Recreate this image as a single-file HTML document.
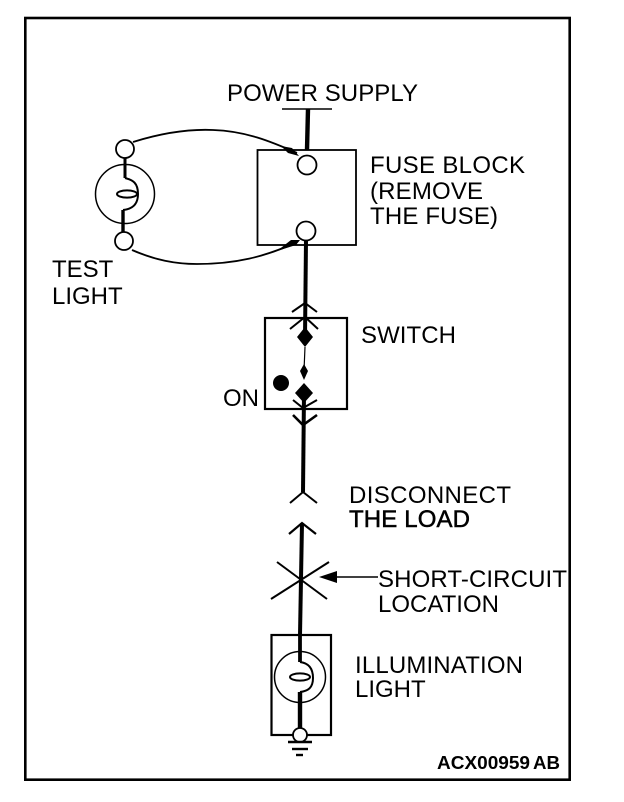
<!DOCTYPE html>
<html><head><meta charset="utf-8"><style>
html,body{margin:0;padding:0;background:#fff}
svg{display:block}
text{font-family:"Liberation Sans",sans-serif;font-size:24px;fill:#000}
</style></head><body>
<svg width="624" height="802" viewBox="0 0 624 802" xmlns="http://www.w3.org/2000/svg">
<rect x="25.3" y="18" width="544.4" height="761.7" fill="none" stroke="#000" stroke-width="2.6"/>
<g fill="none" stroke="#000" stroke-width="1.8">
<rect x="257.5" y="150" width="98.5" height="95"/>
<rect x="265" y="318" width="82" height="91" stroke-width="2.2"/>
<rect x="271.5" y="635" width="59.5" height="100" stroke-width="2.2"/>
<path d="M282 109H332" stroke-width="1.6"/>
<circle cx="125" cy="194" r="29.5" stroke-width="1.5"/>
<circle cx="300" cy="677" r="25.5" stroke-width="1.5"/>
<path d="M133 142C165 132 190 129 213 130C245 131 270 141 297 153" stroke-width="1.8"/>
<path d="M132 250C155 260 175 264 197 264C235 264 265 257 297 242" stroke-width="1.8"/>
<ellipse cx="127" cy="194" rx="10" ry="3.6" stroke-width="2"/>
<ellipse cx="300" cy="677" rx="10" ry="3.6" stroke-width="2"/>
<path d="M125 178C133 180 138 183 138 194C138 204 133 209 123 210" stroke-width="2"/>
<path d="M300 662C308 663 313 668 313 678C313 688 308 691 300 692" stroke-width="2"/>
</g>
<g fill="none" stroke="#000" stroke-width="3.8">
<path d="M308 109L307 150" stroke-width="4.4"/>
<path d="M125 158V178" stroke-width="3"/>
<path d="M123 210V233" stroke-width="3.4"/>
<path d="M300 635V662"/>
<path d="M300 692V733" stroke-width="4.4"/>
<path d="M306 240L305 337" stroke-width="4"/>
<path d="M304 393L303 492" stroke-width="4"/>
<path d="M302 523L300 635" stroke-width="4"/>
</g>
<path d="M305 347L304 371" stroke="#000" stroke-width="1.2" fill="none"/>
<g fill="#000">
<path d="M305 327L313 337L305 347L297 337Z"/>
<path d="M304 383L313 393L304 403L295 393Z"/>
<path d="M304 364L308 371L304 380L300 371Z"/>
<circle cx="281" cy="383" r="8"/>
<path d="M281 146L292 148L299 156L288 153Z"/>
<path d="M277 251L291 240L300 240L296 245Z"/>
<path d="M319 577L337 571V583Z"/>
</g>
<g fill="#fff" stroke="#000" stroke-width="1.8">
<circle cx="307" cy="165" r="9.5"/>
<circle cx="306" cy="231" r="9.5"/>
<circle cx="125" cy="149" r="9"/>
<circle cx="124" cy="241" r="9"/>
<circle cx="300" cy="735" r="7"/>
</g>
<g fill="none" stroke="#000" stroke-width="2">
<path d="M292 312L305 303L317 312"/>
<path d="M290 329L305 317L318 329"/>
<path d="M293 400L303 408L317 400"/>
<path d="M293 415L303 425L317 415" stroke-width="2.6"/>
<path d="M290 503L303 492L317 503"/>
<path d="M289 534L302 523L316 534" stroke-width="2.2"/>
<path d="M277 562L327 599"/>
<path d="M329 562L271 599"/>
<path d="M337 577H378" stroke-width="1.4"/>
<path d="M288 742H312" stroke-width="2.4"/>
<path d="M292 749H308" stroke-width="2.4"/>
<path d="M296 755H303" stroke-width="2.4"/>
</g>
<text x="227" y="101" textLength="191">POWER SUPPLY</text>
<text x="370" y="173" textLength="155">FUSE BLOCK</text>
<text x="370" y="199" textLength="113">(REMOVE</text>
<text x="370" y="224" textLength="128">THE FUSE)</text>
<text x="361" y="343" textLength="95">SWITCH</text>
<text x="223" y="406">ON</text>
<text x="52" y="277">TEST</text>
<text x="52" y="304">LIGHT</text>
<text x="349" y="503" textLength="162">DISCONNECT</text>
<text x="349" y="527" textLength="121" stroke="#000" stroke-width=".5">THE LOAD</text>
<text x="378" y="587" textLength="189">SHORT-CIRCUIT</text>
<text x="378" y="612" textLength="121">LOCATION</text>
<text x="355" y="673" textLength="168">ILLUMINATION</text>
<text x="355" y="697">LIGHT</text>
<text x="437" y="769" textLength="93" lengthAdjust="spacingAndGlyphs" style="font-size:18px;font-weight:bold">ACX00959</text>
<text x="533" y="769" textLength="27" lengthAdjust="spacingAndGlyphs" style="font-size:18px;font-weight:bold">AB</text>
</svg>
</body></html>
